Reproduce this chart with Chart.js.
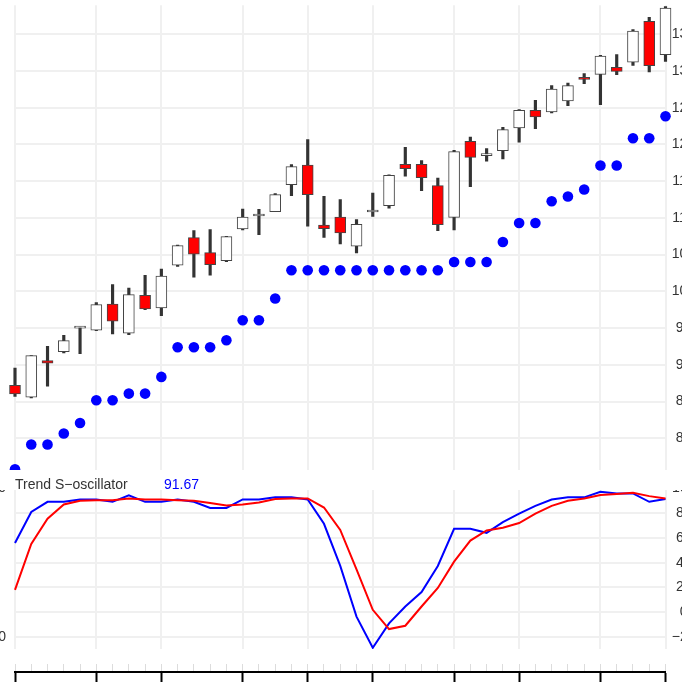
<!DOCTYPE html>
<html>
<head>
<meta charset="utf-8">
<script src="https://cdn.jsdelivr.net/npm/chart.js@4.4.0/dist/chart.umd.min.js"></script>
<style>
  html, body { margin: 0; padding: 0; background: #fff; }
  #wrap { position: relative; width: 682px; height: 687px; overflow: hidden; background: #fff; }
  canvas { position: absolute; left: 0; }
  #band { position: absolute; left: 0; top: 470px; width: 682px; height: 20px; background: #fff; z-index: 2;
          font: 14px 'Liberation Sans', Arial, sans-serif; }
  #band span { position: absolute; top: 4px; line-height: 20px; white-space: nowrap; }
</style>
</head>
<body>
<div id="wrap">
  <canvas id="prices" width="740" height="476" style="top:0"></canvas>
  <canvas id="osc" width="740" height="185" style="top:470px"></canvas>
  <canvas id="axis" width="740" height="32" style="top:655px"></canvas>
  <div id="band"><span style="left:15px;color:#333">Trend S−oscillator</span><span style="left:164px;color:#0000ff">91.67</span></div>
</div>
<script>
// sessions (41 bars), first bar of each week gets a grid line
const days = ['1','2','3','4','5','6','7','8','9','10','11','12','13','14','15','16','17','18','19','20',
              '21','22','23','24','25','26','27','28','29','30','31','32','33','34','35','36','37','38','39','40','41'];
const majorDays = [0, 5, 9, 14, 18, 22, 27, 31, 36, 40];

const open  = [87.21, 85.58, 90.57, 91.80, 95.00, 94.70, 98.28, 94.29, 99.47, 97.74,
               103.55, 107.32, 105.28, 104.19, 108.49, 110.26, 110.86, 114.54, 117.21, 109.04,
               110.13, 106.14, 110.81, 111.68, 117.30, 117.30, 114.40, 110.08, 120.43, 118.49,
               119.17, 122.24, 124.65, 124.42, 125.92, 129.15, 129.55, 130.51, 131.19, 136.77, 132.24];
const high  = [89.57, 91.25, 92.52, 94.02, 95.15, 98.47, 100.92, 100.46, 102.19, 103.05,
               106.30, 108.27, 108.41, 107.50, 111.21, 111.17, 113.30, 117.26, 120.66, 112.94,
               112.49, 109.77, 113.39, 115.85, 119.62, 117.80, 115.44, 119.21, 121.02, 119.44,
               122.34, 124.75, 126.01, 128.02, 128.37, 129.65, 132.14, 132.24, 135.64, 137.31, 138.77];
const low   = [85.71, 85.50, 87.08, 91.61, 91.53, 94.65, 94.20, 94.11, 97.50, 96.70,
               103.40, 101.92, 102.19, 104.05, 108.36, 107.73, 110.86, 113.04, 108.86, 107.36,
               106.45, 105.22, 110.22, 111.31, 115.67, 113.72, 108.27, 108.36, 114.26, 117.71,
               118.02, 120.30, 122.16, 124.28, 125.29, 128.29, 125.43, 129.51, 130.78, 129.87, 131.32];
const close = [86.03, 91.25, 90.21, 93.30, 95.00, 98.20, 95.93, 99.56, 97.60, 102.09,
               106.23, 105.05, 103.65, 107.46, 110.13, 110.26, 113.18, 116.99, 113.18, 108.55,
               107.95, 109.13, 110.81, 115.80, 116.72, 115.49, 109.09, 119.03, 118.25, 118.49,
               122.03, 124.65, 123.74, 127.55, 128.02, 128.87, 132.05, 129.96, 135.45, 130.74, 138.58];
const trend = [75.78, 79.14, 79.14, 80.64, 82.08, 85.17, 85.17, 86.08, 86.08, 88.35,
               92.39, 92.39, 92.39, 93.34, 96.07, 96.07, 99.02, 102.87, 102.87, 102.87,
               102.87, 102.87, 102.87, 102.87, 102.87, 102.87, 102.87, 104.00, 104.00, 104.00,
               106.73, 109.31, 109.31, 112.27, 112.91, 113.86, 117.13, 117.13, 120.84, 120.84, 123.84];

const osc    = [56.0, 81.1, 89.3, 89.3, 91.2, 91.2, 89.3, 94.5, 89.3, 89.3,
                91.2, 89.3, 84.4, 84.4, 91.2, 91.2, 92.9, 92.9, 91.2, 71.5,
                37.4, -3.6, -28.8, -9.1, 4.6, 16.3, 37.4, 67.5, 67.5, 64.2,
                72.9, 79.7, 86.0, 91.2, 92.9, 92.9, 97.5, 96.1, 96.1, 89.3, 91.67];
const signal = [18.0, 55.2, 75.7, 87.1, 90.1, 90.6, 90.6, 92.0, 91.2, 91.2,
                90.6, 90.1, 88.4, 86.3, 87.1, 88.8, 91.5, 92.0, 92.0, 84.7,
                66.6, 34.7, 1.9, -13.7, -11.0, 4.6, 19.6, 40.9, 57.9, 66.1,
                68.3, 72.1, 79.7, 86.0, 90.1, 92.0, 94.8, 95.6, 96.6, 93.9, 92.0];

const priceTicks = [80, 85, 90, 95, 100, 105, 110, 115, 120, 125, 130, 135];
const oscTicks = [-20, 0, 20, 40, 60, 80, 100];
const oscEdgeTicks = [100, -20];

Chart.defaults.font.family = "'Liberation Sans', Arial, sans-serif";
Chart.defaults.font.size = 14;
Chart.defaults.color = '#333';
Chart.defaults.animation = false;
Chart.defaults.plugins.legend.display = false;
Chart.defaults.plugins.tooltip.enabled = false;

const CW = 740;
const PLOT_RIGHT = 665.5;
const gridCol = '#f0f0f0';
const vGrid = ctx => majorDays.includes(ctx.index) ? gridCol : 'rgba(0,0,0,0)';
const fmt = v => v < 0 ? '\u2212' + Math.abs(v) : String(v);
const setTicks = list => s => { s.ticks = list.map(v => ({ value: v })); };
// fixed axis width, and no extra room reserved for half-height labels
const fitTo = w => s => { s.width = w; s.paddingTop = 0; s.paddingBottom = 0; };

new Chart(document.getElementById('prices'), {
    type: 'bar',
    data: {
        labels: days,
        datasets: [{
            type: 'line',
            data: trend,
            showLine: false,
            pointRadius: 5.3,
            pointBackgroundColor: '#0000ff',
            pointBorderWidth: 0,
            clip: { left: 8, right: 8, top: 0, bottom: 0 }
        }, {
            data: open.map((o, i) => [o, close[i]]),
            backgroundColor: close.map((c, i) => c < open[i] ? '#ff0000' : '#ffffff'),
            borderColor: '#444',
            borderWidth: 1,
            borderSkipped: false,
            barThickness: 11,
            minBarLength: 2,
            grouped: false,
            clip: 8
        }, {
            data: low.map((l, i) => [l, high[i]]),
            backgroundColor: '#333',
            borderWidth: 0,
            barThickness: 2.5,
            grouped: false,
            clip: 8
        }]
    },
    options: {
        responsive: false,
        layout: { padding: { left: 15, top: 4, right: 0, bottom: 0.5 } },
        scales: {
            x: {
                offset: false,
                ticks: { display: false },
                grid: { offset: false, color: vGrid, lineWidth: 2, drawTicks: false },
                border: { display: false }
            },
            y: {
                position: 'right',
                min: 75.58,
                max: 138.95,
                afterBuildTicks: setTicks(priceTicks),
                afterFit: fitTo(CW - PLOT_RIGHT),
                ticks: { crossAlign: 'center', padding: 6.3 },
                grid: { color: gridCol, lineWidth: 2, drawTicks: false },
                border: { display: false }
            }
        }
    }
});

new Chart(document.getElementById('osc'), {
    type: 'line',
    data: {
        labels: days,
        datasets: [{
            data: osc,
            borderColor: '#0000ff',
            borderWidth: 2,
            pointRadius: 0,
            tension: 0,
            order: 1
        }, {
            data: signal,
            borderColor: '#ff0000',
            borderWidth: 2,
            pointRadius: 0,
            tension: 0,
            order: 0
        }]
    },
    options: {
        responsive: false,
        layout: { padding: { top: 18.6, bottom: 6 } },
        scales: {
            x: {
                offset: false,
                ticks: { display: false },
                grid: { color: vGrid, lineWidth: 2, drawTicks: false },
                border: { display: false }
            },
            y: {
                position: 'right',
                min: -29.8,
                max: 100,
                afterBuildTicks: setTicks(oscTicks),
                afterFit: fitTo(CW - PLOT_RIGHT),
                ticks: { crossAlign: 'center', padding: 6.3, callback: fmt },
                grid: { color: gridCol, lineWidth: 2, drawTicks: false },
                border: { display: false }
            },
            yl: {
                type: 'linear',
                axis: 'y',
                position: 'left',
                min: -29.8,
                max: 100,
                afterBuildTicks: setTicks(oscEdgeTicks),
                afterFit: fitTo(15),
                ticks: { padding: 9, callback: fmt },
                grid: { display: false, drawTicks: false },
                border: { display: false }
            }
        }
    }
});

new Chart(document.getElementById('axis'), {
    type: 'line',
    data: { labels: days, datasets: [{ data: [] }] },
    options: {
        responsive: false,
        layout: { padding: { left: 15, right: CW - PLOT_RIGHT, top: 9, bottom: 5 } },
        scales: {
            x: {
                offset: false,
                ticks: { display: false },
                grid: {
                    color: '#dcdcdc',
                    lineWidth: 1,
                    tickLength: 10,
                    tickWidth: 2,
                    tickColor: ctx => majorDays.includes(ctx.index) ? '#000' : 'rgba(0,0,0,0)'
                },
                border: { display: true, color: '#000', width: 2 }
            },
            y: { display: false }
        }
    }
});
</script>
</body>
</html>
